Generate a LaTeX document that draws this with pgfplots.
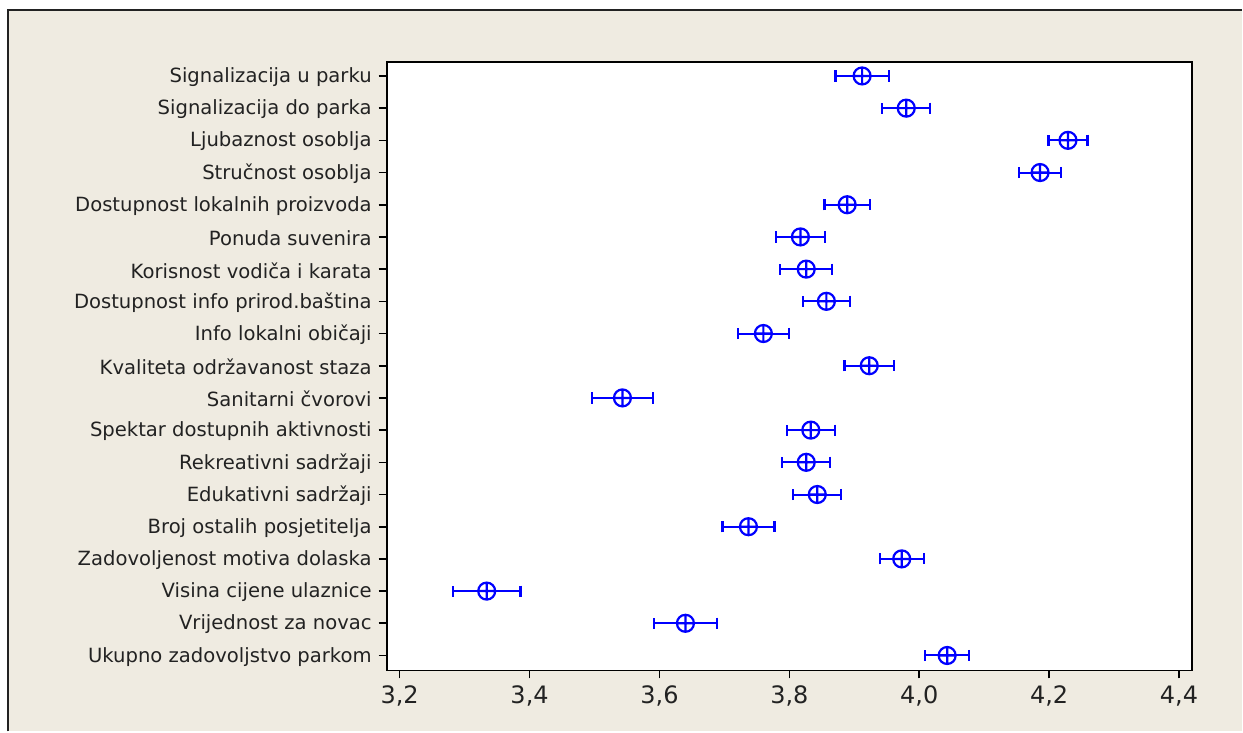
\documentclass[border=0pt]{standalone}
\usepackage{pgfplots}
\usepackage{pgfplotstable}
\pgfplotsset{compat=1.18}
\usepackage{fontspec}
\setmainfont{DejaVu Sans}
\usetikzlibrary{plotmarks}
\definecolor{bg}{RGB}{239,235,225}
\definecolor{fr}{RGB}{34,34,34}

% interval plot: mean and half-width of the interval
\pgfplotstableread{
pos mean err
1 3.912 0.041
2 3.980 0.037
3 4.229 0.030
4 4.186 0.032
5 3.889 0.035
6 3.817 0.038
7 3.826 0.040
8 3.857 0.036
9 3.760 0.039
10 3.923 0.038
11 3.543 0.047
12 3.833 0.037
13 3.826 0.037
14 3.843 0.037
15 3.737 0.040
16 3.973 0.034
17 3.334 0.052
18 3.640 0.048
19 4.043 0.034
}\ci

\begin{document}
\begin{tikzpicture}
\fill[white] (-193.5pt,-30.5pt) rectangle (428pt,335.5pt);
\fill[bg] (-189.25pt,-30.5pt) rectangle (428pt,330.25pt);
\draw[fr, line width=1pt] (-189.25pt,-30.5pt) |- (428pt,330.25pt);
\begin{axis}[
  at={(0,0)}, anchor=south west,
  width=403pt, height=304.5pt, scale only axis,
  axis background/.style={fill=white},
  axis line style={line width=0.9pt, black},
  xmin=3.18, xmax=4.42,
  ymin=0.565, ymax=19.465, y dir=reverse,
  xtick={3.2,3.4,3.6,3.8,4.0,4.2,4.4},
  ytick={1,...,19},
  yticklabels={
    Signalizacija u parku,
    Signalizacija do parka,
    Ljubaznost osoblja,
    Stručnost osoblja,
    Dostupnost lokalnih proizvoda,
    Ponuda suvenira,
    Korisnost vodiča i karata,
    Dostupnost info prirod.baština,
    Info lokalni običaji,
    Kvaliteta održavanost staza,
    Sanitarni čvorovi,
    Spektar dostupnih aktivnosti,
    Rekreativni sadržaji,
    Edukativni sadržaji,
    Broj ostalih posjetitelja,
    Zadovoljenost motiva dolaska,
    Visina cijene ulaznice,
    Vrijednost za novac,
    Ukupno zadovoljstvo parkom},
  xtick pos=bottom, ytick pos=left,
  tick align=outside,
  major tick length=4pt,
  tick style={line width=0.8pt, black},
  yticklabel style={font=\fontsize{9.8}{11}\selectfont, color=fr, yshift=-0.6pt},
  xticklabel style={font=\fontsize{12}{14}\selectfont, color=fr},
  /pgf/number format/.cd, use comma, fixed, fixed zerofill, precision=1, assume math mode=true,
]
\addplot[only marks, blue, mark=oplus, mark size=4.25pt,
  mark options={line width=1.1pt, blue},
  error bars/.cd, x dir=both, x explicit,
  error bar style={line width=1pt, blue},
  error mark options={mark size=2.8pt, line width=1.1pt, blue, rotate=90}]
  table[x=mean, y=pos, x error=err]{\ci};
\end{axis}
\end{tikzpicture}
\end{document}
